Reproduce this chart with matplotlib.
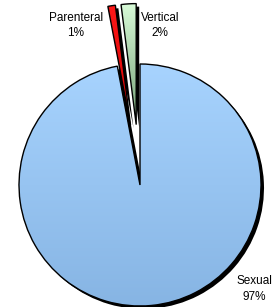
import matplotlib
matplotlib.use('Agg')
import matplotlib.pyplot as plt
import numpy as np
from matplotlib.colors import LinearSegmentedColormap

plt.rcParams['font.family'] = ['Liberation Sans', 'DejaVu Sans']

labels = ['Sexual', 'Parenteral', 'Vertical']
values = [97, 1, 2]
explode_frac = [0, 0.5, 0.5]
colors = [('#a8d4ff', '#86b4e3'), ('#ff1a1a', '#d00000'), ('#dcffdc', '#6f9a6f')]

fig = plt.figure(figsize=(2.73, 3.07), dpi=100)
ax = fig.add_axes([0, 0, 1, 1])

cx, cy, r = 140, 122, 121
# pie() takes explode in data units, so scale by radius
explode = [e * r for e in explode_frac]

# shadow
sh, _ = ax.pie(values, explode=explode, startangle=90, counterclock=False,
               center=(cx + 3, cy - 3), radius=r, colors=['black'] * 3,
               wedgeprops=dict(linewidth=0, zorder=0.5), frame=True)
wedges, _ = ax.pie(values, explode=explode, startangle=90, counterclock=False,
                   center=(cx, cy), radius=r, colors=['none'] * 3,
                   wedgeprops=dict(edgecolor='black', linewidth=1.0, zorder=2), frame=True)

for w, (c1, c2) in zip(wedges, colors):
    x0, y0, x1, y1 = w.get_path().get_extents().extents
    cmap = LinearSegmentedColormap.from_list('g', [c2, c1])
    grad = np.linspace(0, 1, 256).reshape(-1, 1)
    im = ax.imshow(grad, cmap=cmap, origin='lower', aspect='auto',
                   extent=(x0 - 5, x1 + 5, y0 - 5, y1 + 5), zorder=1)
    im.set_clip_path(w)
    w.set_facecolor('none')

ax.set_xlim(0, 273)
ax.set_ylim(0, 307)
ax.set_aspect('auto')
ax.axis('off')

ax.text(76, 281.5, 'Parenteral\n1%', ha='center', va='center', fontsize=8.5, linespacing=1.35)
ax.text(160, 281.5, 'Vertical\n2%', ha='center', va='center', fontsize=8.5, linespacing=1.35)
ax.text(254, 18, 'Sexual\n97%', ha='center', va='center', fontsize=8.5, linespacing=1.35)

fig.savefig('out.png', dpi=100)
